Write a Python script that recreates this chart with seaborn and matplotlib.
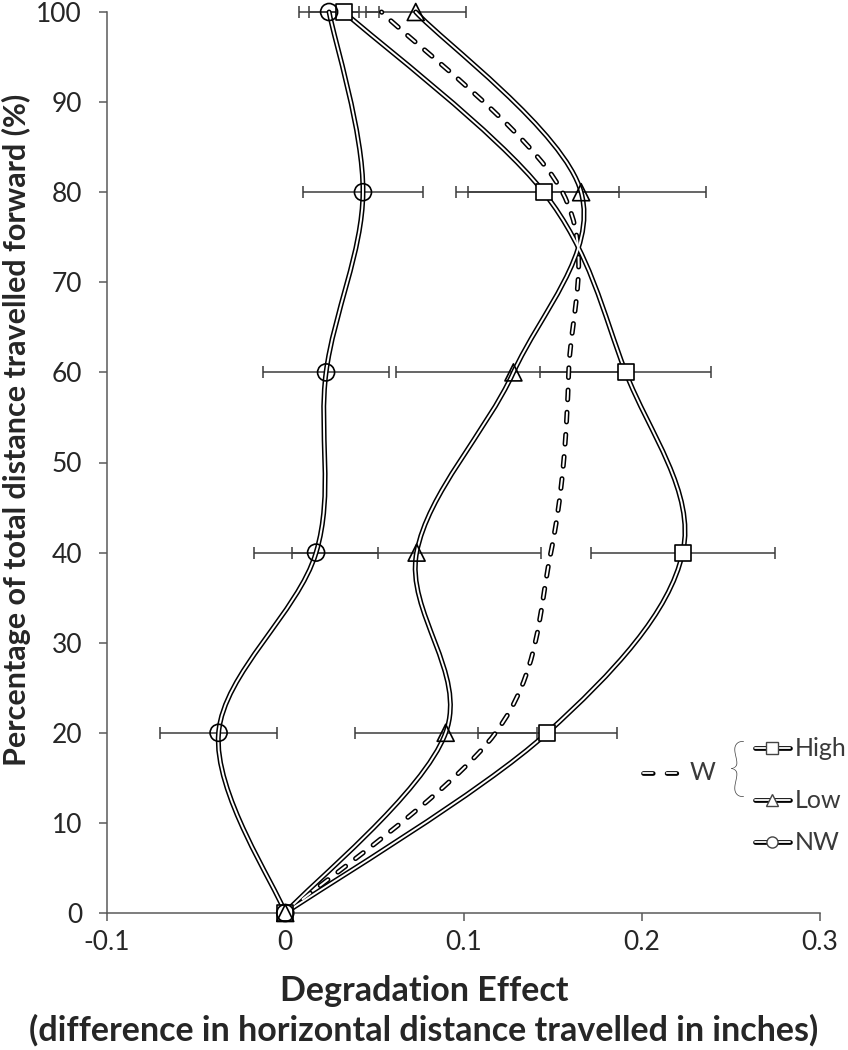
import numpy as np
import matplotlib.pyplot as plt
import seaborn as sns
import pandas as pd
from matplotlib.path import Path
from matplotlib.patches import PathPatch
from matplotlib.lines import Line2D

# percentage of forward distance (y) and degradation effect (x)
pct = [0, 20, 40, 60, 80, 100]
high = [0, 0.147, 0.223, 0.191, 0.145, 0.033]
high_err = [0, 0.039, 0.0515, 0.048, 0.0425, 0.0195]
low = [0, 0.090, 0.0737, 0.128, 0.166, 0.0732]
low_err = [0, 0.051, 0.070, 0.066, 0.070, 0.028]
nw = [0, -0.0374, 0.0173, 0.0229, 0.0436, 0.0246]
nw_err = [0, 0.033, 0.035, 0.0355, 0.0336, 0.017]
w = [0, 0.118, 0.149, 0.159, 0.1555, 0.054]

xticks = [-0.1, 0, 0.1, 0.2, 0.3]
xtick_labels = ['-0.1', '0', '0.1', '0.2', '0.3']
yticks = [0, 10, 20, 30, 40, 50, 60, 70, 80, 90, 100]

sns.set_theme(style='white')
plt.rcParams['font.family'] = ['Lato', 'DejaVu Sans']
plt.rcParams['lines.scale_dashes'] = False

AX_COL = '#5a5a5a'
TXT_COL = '#262626'

fig = plt.figure(figsize=(8.48, 10.5), dpi=100)
ax = fig.add_axes([107/848, 1 - 913/1050, (820 - 107)/848, (913 - 12)/1050])


def smooth_path(xs, ys):
    # excel-like smoothed line: cubic bezier through the points
    p = np.column_stack([xs, ys]).astype(float)
    ext = np.vstack([p[0], p, p[-1]])
    verts = [p[0]]
    codes = [Path.MOVETO]
    for i in range(len(p) - 1):
        a, b, c, d = ext[i], ext[i + 1], ext[i + 2], ext[i + 3]
        verts += [b + (c - a) / 6, c - (d - b) / 6, c]
        codes += [Path.CURVE4] * 3
    return Path(verts, codes)


def double_curve(xs, ys, dashed=False):
    path = smooth_path(xs, ys)
    ls = (0, (7, 9)) if dashed else '-'
    ax.add_patch(PathPatch(path, fill=False, edgecolor='black', lw=3.6, linestyle=ls,
                           capstyle='round', joinstyle='round', zorder=3, clip_on=False))
    ax.add_patch(PathPatch(path, fill=False, edgecolor='white', lw=1.4, linestyle=ls,
                           capstyle='round', joinstyle='round', zorder=3.1, clip_on=False))


# error bars
for xs, errs in [(high, high_err), (low, low_err), (nw, nw_err)]:
    ax.errorbar(xs[1:], pct[1:], xerr=errs[1:], fmt='none', ecolor='#3c3c3c',
                elinewidth=1.1, capsize=4, capthick=1.1, zorder=2, clip_on=False)

double_curve(w, pct, dashed=True)
double_curve(high, pct)
double_curve(low, pct)
double_curve(nw, pct)

df = pd.DataFrame({
    'x': high + low + nw,
    'y': pct * 3,
    'group': ['High'] * 6 + ['Low'] * 6 + ['NW'] * 6,
})
marks = {'High': ('s', 'white', 130), 'Low': ('^', 'none', 150), 'NW': ('o', 'none', 150)}
for g, (m, fc, s) in marks.items():
    sub = df[df['group'] == g]
    sns.scatterplot(data=sub, x='x', y='y', marker=m, s=s, facecolor=fc,
                    edgecolor='black', linewidth=1.2, ax=ax, zorder=4, clip_on=False,
                    legend=False)

ax.set_xlim(-0.1, 0.3)
ax.set_ylim(0, 100)
ax.set_xticks(xticks)
ax.set_xticklabels(xtick_labels)
ax.set_yticks(yticks)
for s in ['top', 'right']:
    ax.spines[s].set_visible(False)
for s in ['left', 'bottom']:
    ax.spines[s].set_color(AX_COL)
    ax.spines[s].set_linewidth(1.1)
ax.tick_params(axis='both', direction='out', length=6, width=1.1, color=AX_COL,
               labelsize=19, labelcolor=TXT_COL)
ax.tick_params(axis='x', bottom=True, pad=6)
ax.tick_params(axis='y', left=True, pad=12)
ax.set_xlabel('Degradation Effect\n(difference in horizontal distance travelled in inches)',
              fontsize=24.5, fontweight='bold', color=TXT_COL, linespacing=1.25)
ax.xaxis.set_label_coords((424 - 107) / 713, (913 - 975) / 901)
ax.set_ylabel('Percentage of total distance travelled forward (%)', fontsize=22,
              fontweight='bold', color=TXT_COL)
ax.yaxis.set_label_coords((31 - 107) / 713, (913 - 430) / 901)
ax.set_facecolor('white')


# custom legend (figure pixel coordinates)
def fx(px):
    return px / 848


def fy(py):
    return 1 - py / 1050


def leg_line(x0, x1, y, dashed=False):
    ls = (0, (7, 10)) if dashed else '-'
    for col, lw in [('black', 3.4), ('white', 1.3)]:
        fig.add_artist(Line2D([fx(x0), fx(x1)], [fy(y), fy(y)], color=col, lw=lw,
                              linestyle=ls, dash_capstyle='round', solid_capstyle='round',
                              transform=fig.transFigure))


def leg_marker(x, y, m, fc):
    fig.add_artist(Line2D([fx(x)], [fy(y)], marker=m, markersize=8, markerfacecolor=fc,
                          markeredgecolor='#444444', markeredgewidth=1.0, linestyle='none',
                          transform=fig.transFigure))


leg_line(643, 679, 773, dashed=True)
fig.text(fx(690), fy(773), 'W', fontsize=18, color='#3a3a3a', va='center', ha='left')
fig.text(fx(737), fy(772), '{', fontsize=46, color='#444444', va='center', ha='center',
         fontweight='light')
for label, yy, m, fc in [('High', 748, 's', 'white'), ('Low', 800, '^', 'white'),
                         ('NW', 842, 'o', 'white')]:
    leg_line(755, 790, yy)
    leg_marker(772, yy, m, fc)
    fig.text(fx(795), fy(yy), label, fontsize=18, color='#3a3a3a', va='center', ha='left')

fig.savefig('out.png', dpi=100)
